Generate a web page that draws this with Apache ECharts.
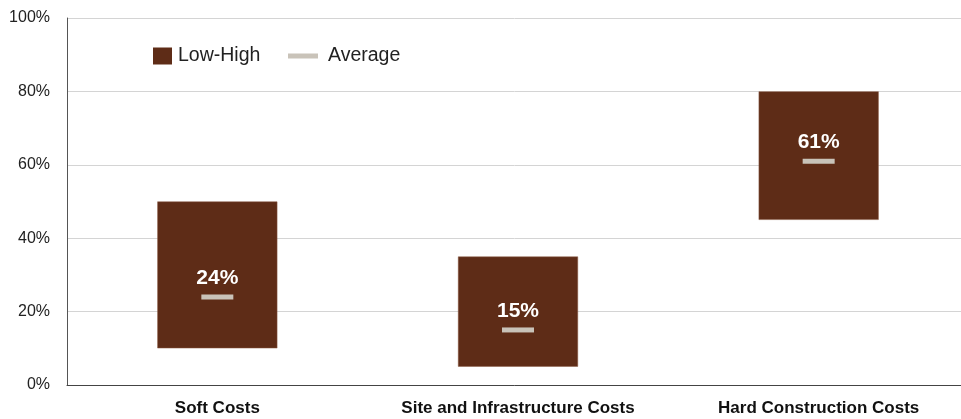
<!DOCTYPE html>
<html>
<head>
<meta charset="utf-8">
<script src="https://cdn.jsdelivr.net/npm/echarts@6/dist/echarts.min.js"></script>
<style>
  html, body { margin: 0; padding: 0; background: #fff; }
  #chart { width: 961px; height: 419px; }
</style>
</head>
<body>
<div id="chart"></div>
<script>
  // 数据
  const categories = ['Soft Costs', 'Site and Infrastructure Costs', 'Hard Construction Costs']
  const lowValues = [10, 5, 45]
  const highValues = [50, 35, 80]
  const avgValues = [24, 15, 61]
  const yTicks = [0, 20, 40, 60, 80, 100]

  const barColor = '#5e2c17'
  const avgColor = '#c9c3b9'
  const textFont = '"Liberation Sans", Arial, sans-serif'

  let myChart = echarts.init(document.getElementById('chart'))

  let option = {
    animation: false,
    textStyle: { fontFamily: textFont },
    grid: {
      left: 67,
      width: 902, // 绘图区右边超出画布
      top: 18,
      bottom: 34,
      outerBoundsMode: 'none'
    },
    legend: [{
      left: 153,
      top: 46,
      padding: 0,
      itemWidth: 19,
      itemHeight: 17,
      itemGap: 5,
      itemStyle: { borderWidth: 0 },
      textStyle: { fontSize: 19.5, color: '#222', fontFamily: textFont, padding: [0, 0, 0, 1] },
      data: [{ name: 'Low-High', icon: 'rect' }]
    }, {
      left: 288,
      top: 46,
      padding: 0,
      itemWidth: 30,
      itemHeight: 5,
      itemStyle: { borderWidth: 0 },
      textStyle: { fontSize: 19.5, color: '#222', fontFamily: textFont, padding: [0, 0, 0, 5] },
      data: [{ name: 'Average', icon: 'rect' }]
    }],
    xAxis: {
      type: 'category',
      data: categories,
      axisTick: { show: false },
      axisLine: { lineStyle: { color: '#444', width: 1 } },
      axisLabel: {
        interval: 0,
        hideOverlap: false,
        margin: 15,
        fontSize: 17,
        fontWeight: 'bold',
        color: '#111',
        fontFamily: textFont
      }
    },
    yAxis: {
      type: 'value',
      min: yTicks[0],
      max: yTicks[yTicks.length - 1],
      interval: 20,
      axisLine: { show: true, lineStyle: { color: '#555', width: 1 } },
      axisTick: { show: false },
      axisLabel: {
        formatter: '{value}%',
        fontSize: 16,
        color: '#222',
        margin: 17,
        fontFamily: textFont
      },
      splitLine: { show: true, lineStyle: { color: '#d4d4d4', width: 1 } }
    },
    series: [{
      // 透明底座
      name: 'base',
      type: 'bar',
      stack: 'range',
      barWidth: 120,
      itemStyle: { color: 'transparent' },
      emphasis: { disabled: true },
      data: lowValues
    }, {
      name: 'Low-High',
      type: 'bar',
      stack: 'range',
      barWidth: 120,
      itemStyle: { color: barColor, borderColor: '#8a5a45', borderWidth: 0.5 },
      data: highValues.map((h, i) => h - lowValues[i])
    }, {
      name: 'Average',
      type: 'scatter',
      symbol: 'rect',
      symbolSize: [32, 5],
      itemStyle: { color: avgColor, opacity: 1 },
      label: {
        show: true,
        position: 'top',
        distance: 6,
        formatter: p => p.value + '%',
        color: '#fff',
        fontSize: 21,
        fontWeight: 'bold',
        fontFamily: textFont
      },
      data: avgValues
    }]
  }

  myChart.setOption(option)
</script>
</body>
</html>
